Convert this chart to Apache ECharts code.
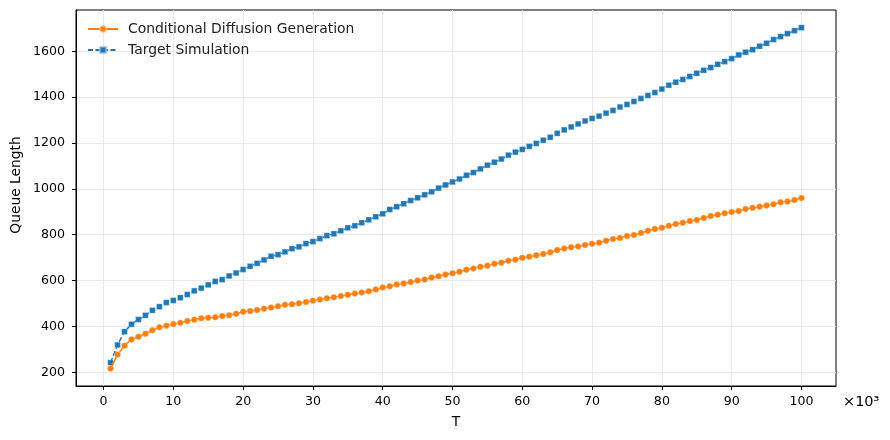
<!DOCTYPE html>
<html>
<head>
<meta charset="utf-8">
<script src="https://cdn.jsdelivr.net/npm/echarts@6/dist/echarts.min.js"></script>
<style>html,body{margin:0;padding:0;background:#fff;}#c{width:890px;height:440px;}</style>
</head>
<body>
<div id="c"></div>
<script>
const T = [1,2,3,4,5,6,7,8,9,10,11,12,13,14,15,16,17,18,19,20,21,22,23,24,25,26,27,28,29,30,31,32,33,34,35,36,37,38,39,40,41,42,43,44,45,46,47,48,49,50,51,52,53,54,55,56,57,58,59,60,61,62,63,64,65,66,67,68,69,70,71,72,73,74,75,76,77,78,79,80,81,82,83,84,85,86,87,88,89,90,91,92,93,94,95,96,97,98,99,100];
const conditionalDiffusion = [216,277,316,343,355,368,383,396,403,410,416,423,429,436,438,440,445,449,455,464,467,471,477,482,488,494,497,501,506,512,517,523,527,533,538,543,548,553,561,570,575,583,587,594,600,604,613,619,626,632,638,647,653,660,665,673,678,686,691,699,704,710,716,723,733,740,745,749,755,760,765,774,781,786,794,799,807,817,825,830,839,847,852,860,864,873,881,887,894,899,903,912,917,922,927,933,942,945,951,960];
const targetSimulation = [242,319,377,409,430,448,470,486,504,513,525,539,555,567,581,596,604,620,633,648,662,675,690,706,713,725,739,747,761,770,783,796,804,817,830,839,852,865,878,891,910,922,935,949,961,974,987,1003,1017,1030,1043,1059,1071,1087,1103,1116,1130,1147,1160,1172,1185,1198,1212,1225,1242,1257,1270,1283,1296,1307,1317,1330,1342,1357,1368,1381,1394,1407,1420,1435,1452,1465,1477,1490,1504,1517,1529,1543,1555,1568,1584,1596,1607,1622,1635,1651,1664,1677,1690,1703];
const xTicks = [0,10,20,30,40,50,60,70,80,90,100];
const yTicks = [200,400,600,800,1000,1200,1400,1600];
const seriesNames = ['Conditional Diffusion Generation', 'Target Simulation'];
const xLabel = 'T';
const yLabel = 'Queue Length';
const xScaleNote = '×10³';

const font = 'DejaVu Sans';
const pair = (xs, ys) => xs.map((x, i) => [x, ys[i]]);
const chart = echarts.init(document.getElementById('c'), null, {renderer: 'canvas'});
chart.setOption({
  animation: false,
  backgroundColor: '#fff',
  textStyle: {fontFamily: font},
  grid: {left: 76, right: 54, top: 10, bottom: 54, containLabel: false,
         show: true, borderColor: '#000', borderWidth: 1, backgroundColor: 'transparent'},
  legend: {
    orient: 'vertical', left: 82, top: 17, itemWidth: 30, itemHeight: 8, itemGap: 7,
    textStyle: {fontFamily: font, fontSize: 13.9, color: '#222', padding: [0, 0, 0, 5]},
    data: seriesNames
  },
  xAxis: {
    type: 'value', min: -3.95, max: 104.95,
    name: xLabel, nameLocation: 'middle', nameGap: 29,
    nameTextStyle: {fontFamily: font, fontSize: 13.8, color: '#000'},
    axisLine: {show: true, onZero: false, lineStyle: {color: '#000', width: 1}},
    axisTick: {show: true, inside: false, length: 4, customValues: xTicks, lineStyle: {color: '#000'}},
    axisLabel: {customValues: xTicks, fontFamily: font, fontSize: 12.6, color: '#000', margin: 9},
    splitLine: {show: true, lineStyle: {color: '#e6e6e6', width: 0.8}}
  },
  yAxis: {
    type: 'value', min: 140, max: 1780,
    axisLine: {show: true, onZero: false, lineStyle: {color: '#000', width: 1}},
    axisTick: {show: true, inside: false, length: 4, customValues: yTicks, lineStyle: {color: '#000'}},
    axisLabel: {customValues: yTicks, formatter: v => String(v), fontFamily: font, fontSize: 12.6, color: '#000', margin: 11},
    splitLine: {show: true, lineStyle: {color: '#e6e6e6', width: 0.8}}
  },
  graphic: [{
    type: 'text', left: 843, top: 395,
    style: {text: xScaleNote, font: '14.5px "DejaVu Sans"', fill: '#000'}
  }, {
    type: 'text', x: 16, y: 185, rotation: Math.PI / 2,
    style: {text: yLabel, font: '13.8px "DejaVu Sans"', fill: '#000', align: 'center', verticalAlign: 'middle'}
  }],
  series: [
    {
      name: seriesNames[0], type: 'line', data: pair(T, conditionalDiffusion),
      symbol: 'circle', symbolSize: 6, showSymbol: true,
      lineStyle: {color: '#ff7f0e', width: 1.5},
      itemStyle: {color: '#ff7f0e', borderColor: 'rgba(255,200,150,0.6)', borderWidth: 0.6},
      z: 3
    },
    {
      name: seriesNames[1], type: 'line', data: pair(T, targetSimulation),
      symbol: 'rect', symbolSize: 5.5, showSymbol: true,
      lineStyle: {color: '#1f77b4', width: 1.5, type: [5, 2.5]},
      itemStyle: {color: '#1f77b4', borderColor: 'rgba(170,205,235,0.6)', borderWidth: 0.6},
      z: 2
    }
  ]
});
</script>
</body>
</html>
